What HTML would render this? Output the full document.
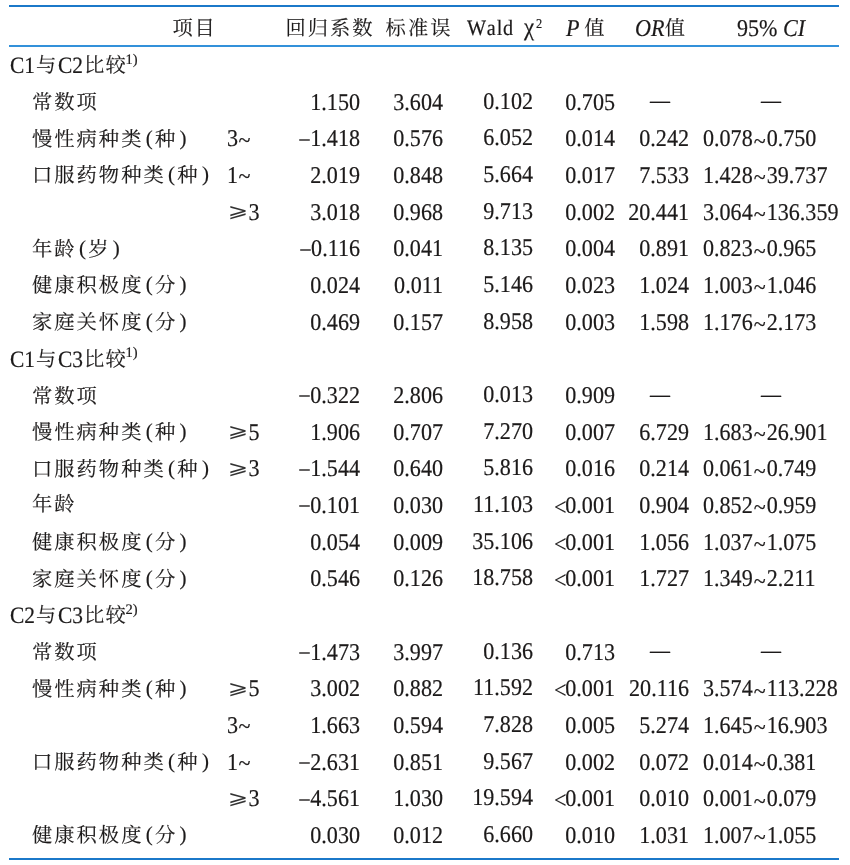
<!DOCTYPE html><html lang="zh"><head><meta charset="utf-8"><title>table</title><style>
html,body{margin:0;padding:0;background:#fff;}
body{width:850px;height:865px;position:relative;overflow:hidden;
 font-family:"Liberation Serif","Noto Serif CJK SC",serif;font-size:24.1px;color:#1c1a1a;text-rendering:geometricPrecision;-webkit-text-stroke:0.2px #1c1a1a;}
.ln{position:absolute;left:9px;width:830px;background:#1b78c9;}
.r{position:absolute;left:0;width:850px;height:0;}
.r span{position:absolute;top:0;line-height:0;white-space:nowrap;}
.c{font-size:20.3px;letter-spacing:2.0px;-webkit-text-stroke:0.15px #1c1a1a;}
.ra{transform-origin:100% 50%;transform:translateX(-100%) scaleX(0.917);}
.n{transform-origin:0 50%;transform:scaleX(0.917);}
.ca{transform:translateX(-50%) scaleX(0.83);}
sup{font-size:62%;line-height:0;vertical-align:0.62em;letter-spacing:0;}
i{font-style:italic;}
b.p{font-weight:normal;display:inline-block;width:11.6px;text-align:center;letter-spacing:0;font-size:21px;position:relative;top:-1px}
.l{letter-spacing:0;font-size:23.3px;transform-origin:0 50%;transform:scaleX(.92);}
b.t{font-weight:normal;position:relative;top:2.4px;margin:0 1.1px}
b.g{font-weight:normal;font-family:'DejaVu Sans',sans-serif;font-size:19px;display:inline-block;transform:scaleX(1.4);position:relative;top:-2.5px;margin-left:3.8px;margin-right:3.6px;color:#333;-webkit-text-stroke:0}
b.lt{font-weight:normal;position:relative;top:2.0px;left:1.4px}
b.m{font-weight:normal;position:relative;top:1.4px;margin-right:-0.6px}
</style></head><body>
<div class="ln" style="top:4.6px;height:2px"></div>
<div class="ln" style="top:45.1px;height:1.5px;background:#3391da"></div>
<div class="ln" style="top:858px;height:2px"></div>
<div class="r" style="top:29.3px"><span class="c" style="left:172.5px;top:-0.4px;letter-spacing:1.6px">项目</span><span class="c" style="left:285.5px;top:-0.4px;letter-spacing:2px">回归系数</span><span class="c" style="left:385.6px;top:-0.4px;letter-spacing:2px">标准误</span><span class="n" style="left:467px;top:-0.9px;letter-spacing:0.9px;font-size:22px;font-kerning:none">Wald</span><span class="n" style="left:523.5px;top:-1.7px;font-size:25px">χ</span><span class="n" style="left:535.8px;top:-5.5px;font-size:13.5px">2</span><span class="n" style="left:565.8px"><i>P</i></span><span class="c" style="left:584.2px;top:-0.4px">值</span><span class="n" style="left:634.6px"><i>OR</i></span><span class="c" style="left:664.8px;top:-0.4px">值</span><span class="n" style="left:736.8px">95% <i>CI</i></span></div>
<div class="r" style="top:66.2px"><span class="l" style="left:10.4px">C1</span><span class="c" style="left:36px">与</span><span class="l" style="left:57.6px">C2</span><span class="c" style="left:84px">比</span><span class="c" style="left:105.5px">较</span><span style="left:125.6px;top:-6.3px;font-size:14.5px">1)</span></div>
<div class="r" style="top:102.7px"><span class="c" style="left:32px;top:0.7px">常数项</span><span class="ra" style="left:359.8px">1.150</span><span class="ra" style="left:443px">3.604</span><span class="ra" style="left:533px;top:-1.2px">0.102</span><span class="ra" style="left:614.6px">0.705</span><span class="ca" style="left:660px;top:-1.4px">—</span><span class="ca" style="left:770.6px;top:-1.4px">—</span></div>
<div class="r" style="top:139.3px"><span class="c" style="left:32px;top:-0.6px">慢性病种类<b class="p">(</b>种<b class="p">)</b></span><span class="n" style="left:226.7px;top:0.1px">3<b class="t" style="top:1.4px;left:-0.7px">~</b></span><span class="ra" style="left:359.8px"><b class="m">−</b>1.418</span><span class="ra" style="left:443px">0.576</span><span class="ra" style="left:533px;top:-1.2px">6.052</span><span class="ra" style="left:614.6px">0.014</span><span class="ra" style="left:688.6px">0.242</span><span class="n" style="left:703px">0.078<b class="t">~</b>0.750</span></div>
<div class="r" style="top:176.0px"><span class="c" style="left:32px;top:-0.6px">口服药物种类<b class="p">(</b>种<b class="p">)</b></span><span class="n" style="left:226.7px;top:0.1px">1<b class="t" style="top:1.4px;left:-0.7px">~</b></span><span class="ra" style="left:359.8px">2.019</span><span class="ra" style="left:443px">0.848</span><span class="ra" style="left:533px;top:-1.2px">5.664</span><span class="ra" style="left:614.6px">0.017</span><span class="ra" style="left:688.6px">7.533</span><span class="n" style="left:703px">1.428<b class="t">~</b>39.737</span></div>
<div class="r" style="top:212.7px"><span class="n" style="left:226.7px;top:0.1px"><b class="g">⩾</b>3</span><span class="ra" style="left:359.8px">3.018</span><span class="ra" style="left:443px">0.968</span><span class="ra" style="left:533px;top:-1.2px">9.713</span><span class="ra" style="left:614.6px">0.002</span><span class="ra" style="left:688.6px">20.441</span><span class="n" style="left:703px">3.064<b class="t">~</b>136.359</span></div>
<div class="r" style="top:249.3px"><span class="c" style="left:32px;top:-0.6px">年龄<b class="p">(</b>岁<b class="p">)</b></span><span class="ra" style="left:359.8px"><b class="m">−</b>0.116</span><span class="ra" style="left:443px">0.041</span><span class="ra" style="left:533px;top:-1.2px">8.135</span><span class="ra" style="left:614.6px">0.004</span><span class="ra" style="left:688.6px">0.891</span><span class="n" style="left:703px">0.823<b class="t">~</b>0.965</span></div>
<div class="r" style="top:286.0px"><span class="c" style="left:32px;top:-0.6px">健康积极度<b class="p">(</b>分<b class="p">)</b></span><span class="ra" style="left:359.8px">0.024</span><span class="ra" style="left:443px">0.011</span><span class="ra" style="left:533px;top:-1.2px">5.146</span><span class="ra" style="left:614.6px">0.023</span><span class="ra" style="left:688.6px">1.024</span><span class="n" style="left:703px">1.003<b class="t">~</b>1.046</span></div>
<div class="r" style="top:322.7px"><span class="c" style="left:32px;top:-0.6px">家庭关怀度<b class="p">(</b>分<b class="p">)</b></span><span class="ra" style="left:359.8px">0.469</span><span class="ra" style="left:443px">0.157</span><span class="ra" style="left:533px;top:-1.2px">8.958</span><span class="ra" style="left:614.6px">0.003</span><span class="ra" style="left:688.6px">1.598</span><span class="n" style="left:703px">1.176<b class="t">~</b>2.173</span></div>
<div class="r" style="top:359.6px"><span class="l" style="left:10.4px">C1</span><span class="c" style="left:36px">与</span><span class="l" style="left:57.6px">C3</span><span class="c" style="left:84px">比</span><span class="c" style="left:105.5px">较</span><span style="left:125.6px;top:-6.3px;font-size:14.5px">1)</span></div>
<div class="r" style="top:396.0px"><span class="c" style="left:32px;top:0.7px">常数项</span><span class="ra" style="left:359.8px"><b class="m">−</b>0.322</span><span class="ra" style="left:443px">2.806</span><span class="ra" style="left:533px;top:-1.2px">0.013</span><span class="ra" style="left:614.6px">0.909</span><span class="ca" style="left:660px;top:-1.4px">—</span><span class="ca" style="left:770.6px;top:-1.4px">—</span></div>
<div class="r" style="top:432.7px"><span class="c" style="left:32px;top:-0.6px">慢性病种类<b class="p">(</b>种<b class="p">)</b></span><span class="n" style="left:226.7px;top:0.1px"><b class="g">⩾</b>5</span><span class="ra" style="left:359.8px">1.906</span><span class="ra" style="left:443px">0.707</span><span class="ra" style="left:533px;top:-1.2px">7.270</span><span class="ra" style="left:614.6px">0.007</span><span class="ra" style="left:688.6px">6.729</span><span class="n" style="left:703px">1.683<b class="t">~</b>26.901</span></div>
<div class="r" style="top:469.3px"><span class="c" style="left:32px;top:-0.6px">口服药物种类<b class="p">(</b>种<b class="p">)</b></span><span class="n" style="left:226.7px;top:0.1px"><b class="g">⩾</b>3</span><span class="ra" style="left:359.8px"><b class="m">−</b>1.544</span><span class="ra" style="left:443px">0.640</span><span class="ra" style="left:533px;top:-1.2px">5.816</span><span class="ra" style="left:614.6px">0.016</span><span class="ra" style="left:688.6px">0.214</span><span class="n" style="left:703px">0.061<b class="t">~</b>0.749</span></div>
<div class="r" style="top:506.0px"><span class="c" style="left:32px;top:-0.6px">年龄</span><span class="ra" style="left:359.8px"><b class="m">−</b>0.101</span><span class="ra" style="left:443px">0.030</span><span class="ra" style="left:533px;top:-1.2px">11.103</span><span class="ra" style="left:614.6px"><b class="lt">&lt;</b>0.001</span><span class="ra" style="left:688.6px">0.904</span><span class="n" style="left:703px">0.852<b class="t">~</b>0.959</span></div>
<div class="r" style="top:542.7px"><span class="c" style="left:32px;top:-0.6px">健康积极度<b class="p">(</b>分<b class="p">)</b></span><span class="ra" style="left:359.8px">0.054</span><span class="ra" style="left:443px">0.009</span><span class="ra" style="left:533px;top:-1.2px">35.106</span><span class="ra" style="left:614.6px"><b class="lt">&lt;</b>0.001</span><span class="ra" style="left:688.6px">1.056</span><span class="n" style="left:703px">1.037<b class="t">~</b>1.075</span></div>
<div class="r" style="top:579.3px"><span class="c" style="left:32px;top:-0.6px">家庭关怀度<b class="p">(</b>分<b class="p">)</b></span><span class="ra" style="left:359.8px">0.546</span><span class="ra" style="left:443px">0.126</span><span class="ra" style="left:533px;top:-1.2px">18.758</span><span class="ra" style="left:614.6px"><b class="lt">&lt;</b>0.001</span><span class="ra" style="left:688.6px">1.727</span><span class="n" style="left:703px">1.349<b class="t">~</b>2.211</span></div>
<div class="r" style="top:616.2px"><span class="l" style="left:10.4px">C2</span><span class="c" style="left:36px">与</span><span class="l" style="left:57.6px">C3</span><span class="c" style="left:84px">比</span><span class="c" style="left:105.5px">较</span><span style="left:125.6px;top:-6.3px;font-size:14.5px">2)</span></div>
<div class="r" style="top:652.7px"><span class="c" style="left:32px;top:0.7px">常数项</span><span class="ra" style="left:359.8px"><b class="m">−</b>1.473</span><span class="ra" style="left:443px">3.997</span><span class="ra" style="left:533px;top:-1.2px">0.136</span><span class="ra" style="left:614.6px">0.713</span><span class="ca" style="left:660px;top:-1.4px">—</span><span class="ca" style="left:770.6px;top:-1.4px">—</span></div>
<div class="r" style="top:689.3px"><span class="c" style="left:32px;top:-0.6px">慢性病种类<b class="p">(</b>种<b class="p">)</b></span><span class="n" style="left:226.7px;top:0.1px"><b class="g">⩾</b>5</span><span class="ra" style="left:359.8px">3.002</span><span class="ra" style="left:443px">0.882</span><span class="ra" style="left:533px;top:-1.2px">11.592</span><span class="ra" style="left:614.6px"><b class="lt">&lt;</b>0.001</span><span class="ra" style="left:688.6px">20.116</span><span class="n" style="left:703px">3.574<b class="t">~</b>113.228</span></div>
<div class="r" style="top:726.0px"><span class="n" style="left:226.7px;top:0.1px">3<b class="t" style="top:1.4px;left:-0.7px">~</b></span><span class="ra" style="left:359.8px">1.663</span><span class="ra" style="left:443px">0.594</span><span class="ra" style="left:533px;top:-1.2px">7.828</span><span class="ra" style="left:614.6px">0.005</span><span class="ra" style="left:688.6px">5.274</span><span class="n" style="left:703px">1.645<b class="t">~</b>16.903</span></div>
<div class="r" style="top:762.7px"><span class="c" style="left:32px;top:-0.6px">口服药物种类<b class="p">(</b>种<b class="p">)</b></span><span class="n" style="left:226.7px;top:0.1px">1<b class="t" style="top:1.4px;left:-0.7px">~</b></span><span class="ra" style="left:359.8px"><b class="m">−</b>2.631</span><span class="ra" style="left:443px">0.851</span><span class="ra" style="left:533px;top:-1.2px">9.567</span><span class="ra" style="left:614.6px">0.002</span><span class="ra" style="left:688.6px">0.072</span><span class="n" style="left:703px">0.014<b class="t">~</b>0.381</span></div>
<div class="r" style="top:799.3px"><span class="n" style="left:226.7px;top:0.1px"><b class="g">⩾</b>3</span><span class="ra" style="left:359.8px"><b class="m">−</b>4.561</span><span class="ra" style="left:443px">1.030</span><span class="ra" style="left:533px;top:-1.2px">19.594</span><span class="ra" style="left:614.6px"><b class="lt">&lt;</b>0.001</span><span class="ra" style="left:688.6px">0.010</span><span class="n" style="left:703px">0.001<b class="t">~</b>0.079</span></div>
<div class="r" style="top:836.0px"><span class="c" style="left:32px;top:-0.6px">健康积极度<b class="p">(</b>分<b class="p">)</b></span><span class="ra" style="left:359.8px">0.030</span><span class="ra" style="left:443px">0.012</span><span class="ra" style="left:533px;top:-1.2px">6.660</span><span class="ra" style="left:614.6px">0.010</span><span class="ra" style="left:688.6px">1.031</span><span class="n" style="left:703px">1.007<b class="t">~</b>1.055</span></div>
</body></html>
